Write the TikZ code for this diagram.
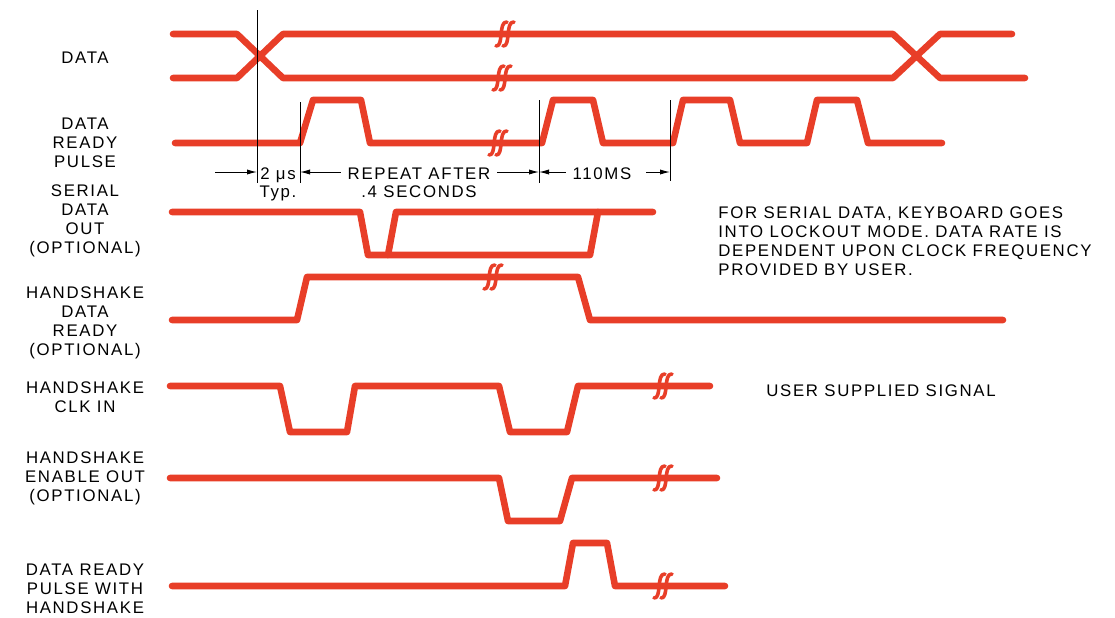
\documentclass[tikz,border=0pt]{standalone}
\usepackage{fontspec}
\setmainfont[LetterSpace=10]{Liberation Sans}
\usetikzlibrary{arrows.meta}

\definecolor{tracered}{RGB}{232,62,40}

\tikzset{
	timingpicture/.style = {
		x = 0.5pt,
		y = -0.5pt,
		font = \fontsize{8.4}{9.5}\selectfont,
		arrow/.style = {
			draw,
			line width = 0.5pt,
			-{Latex[length = 5pt, width = 2.6pt]},
		}
	},
	signal/.style = {
		draw = tracered,
		line width = 3.3pt,
		line cap = round,
		line join = round
	},
	signame/.style = {
		align = center,
		inner sep = 0pt
	},
	marker/.style = {
		draw = black,
		line width = 0.5pt
	},
	cut/.pic = {
		\path[signal, line width = 1.8pt] (-9,12) .. controls (-1,13) and (-7,-13) .. (2,-12);
		\path[signal, line width = 1.8pt] (-2,12) .. controls (6,13) and (0,-13) .. (9,-12);
	}
}

\begin{document}
\begin{tikzpicture}[timingpicture]
	\useasboundingbox (0,0) rectangle (1115,617);

	\node[signame] (data) at (85,58) {DATA};
	\node[signame] (drp) at (85,143) {DATA\\READY\\PULSE};
	\node[signame] (sdo) at (85,221) {SERIAL\\DATA\\OUT\\(OPTIONAL)};
	\node[signame] (hdr) at (85,323) {HANDSHAKE\\DATA\\READY\\(OPTIONAL)};
	\node[signame] (hclk) at (85,397) {HANDSHAKE\\CLK IN};
	\node[signame] (heo) at (85,478) {HANDSHAKE\\ENABLE OUT\\(OPTIONAL)};
	\node[signame] (drph) at (85,589) {DATA READY\\PULSE WITH\\HANDSHAKE};

	\node[signame, align = left, anchor = north west] (note) at (718,206)
		{FOR SERIAL DATA, KEYBOARD GOES\\INTO LOCKOUT MODE. DATA RATE IS\\DEPENDENT UPON CLOCK FREQUENCY\\PROVIDED BY USER.};
	\node[signame, anchor = west] (user) at (766,391) {USER SUPPLIED SIGNAL};

	\path[signal] (173,34) -- (237,34) -- (283,78) -- (893,78) -- (940,34) -- (1012,34);
	\path[signal] (173,78) -- (237,78) -- (283,34) -- (893,34) -- (940,78) -- (1025,78);
	\pic at (505,34) {cut};
	\pic at (502,78) {cut};

	\path[signal] (175,143) -- (300,143) -- (313,100) -- (361,100) -- (370,143)
		-- (542,143) -- (553,100) -- (593,100) -- (603,143)
		-- (673,143) -- (683,100) -- (730,100) -- (740,143)
		-- (807,143) -- (817,100) -- (857,100) -- (868,143) -- (942,143);
	\pic at (498,143) {cut};

	\path[signal] (172,212) -- (360,212) -- (368,255) -- (590,255) -- (598,212) -- (653,212);
	\path[signal] (388,255) -- (396,212) -- (598,212);

	\path[signal] (172,320) -- (297,320) -- (307,277) -- (578,277) -- (590,320) -- (1003,320);
	\pic at (493,277) {cut};

	\path[signal] (170,386) -- (280,386) -- (290,432) -- (347,432) -- (355,386)
		-- (499,386) -- (510,432) -- (567,432) -- (578,386) -- (710,386);
	\pic at (663,386) {cut};

	\path[signal] (170,478) -- (499,478) -- (508,521) -- (560,521) -- (572,478) -- (717,478);
	\pic at (663,478) {cut};

	\path[signal] (172,586) -- (565,586) -- (573,543) -- (607,543) -- (615,586) -- (725,586);
	\pic at (663,586) {cut};

	\path[marker] (257,10) -- (257,183);
	\path[marker] (300,102) -- (300,183);
	\path[marker] (539,100) -- (539,183);
	\path[marker] (670,100) -- (670,181);

	\coordinate (m0) at (257,172);
	\coordinate (m1) at (300,172);
	\coordinate (m2) at (539,172);
	\coordinate (m3) at (670,172);
	\coordinate (a0) at (215,172);

	\node[anchor = base] (us) at (278,179) {2 μs};
	\node[anchor = base] (typ) at (278,197) {Typ.};
	\node[anchor = base] (rep) at (419,179) {REPEAT AFTER};
	\node[anchor = base] (sec) at (419,197) {.4 SECONDS};
	\node[anchor = base] (ms) at (602,179) {110MS};

	\begin{scope}[every path/.style = arrow]
		\path (a0) to (m0);
		\path (rep.west |- m1) to (m1);
		\path (rep.east |- m2) to (m2);
		\path (ms.west |- m2) to (m2);
		\path ([xshift = 4pt] ms.east |- m3) to (m3);
	\end{scope}
\end{tikzpicture}
\end{document}
